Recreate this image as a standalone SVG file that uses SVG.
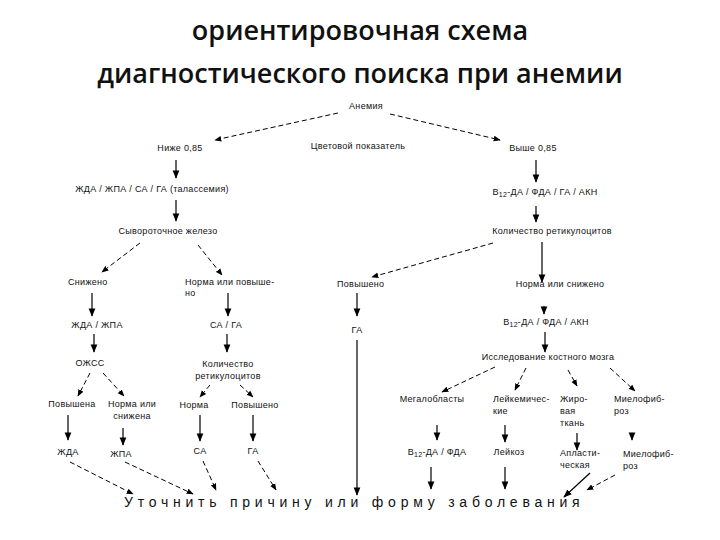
<svg xmlns="http://www.w3.org/2000/svg" width="720" height="540" viewBox="0 0 720 540">
<defs>
<marker id="ah" viewBox="0 0 10 10" refX="9" refY="5" markerWidth="7" markerHeight="7" orient="auto-start-reverse"><path d="M0,1 L10,5 L0,9 z" fill="#000"/></marker>
<style>
.t{font-family:"Liberation Sans",Arial,sans-serif;font-size:9px;fill:#111;letter-spacing:0.3px}
.m{text-anchor:middle}
.h{font-family:"Open Sans","Noto Sans",sans-serif;font-weight:600;font-size:27px;fill:#111;text-anchor:middle}
.s{stroke:#000;stroke-width:1.2;fill:none;marker-end:url(#ah)}
.d{stroke:#000;stroke-width:1;fill:none;stroke-dasharray:5,3;marker-end:url(#ah)}
</style>
</defs>
<rect width="720" height="540" fill="#fff"/>
<g id="title"><text class="h" x="360" y="40">ориентировочная схема</text><text class="h" x="360" y="83">диагностического поиска при анемии</text></g>
<g id="connectors">
<path class="d" d="M338,113 L215,140"/>
<path class="d" d="M390,114 L500,140"/>
<path class="s" d="M176,160 L176,178"/>
<path class="s" d="M176,200 L176,221"/>
<path class="d" d="M140,243 L102,272"/>
<path class="d" d="M198,245 L222,275"/>
<path class="s" d="M536,160 L536,182"/>
<path class="s" d="M536,206 L536,222"/>
<path class="d" d="M493,243 L372,277"/>
<path class="s" d="M542,242 L542,282"/>
<path class="s" d="M92,293 L92,316"/>
<path class="s" d="M228,293 L228,316"/>
<path class="s" d="M357,293 L357,316"/>
<path class="s" d="M94,334 L94,352"/>
<path class="d" d="M90,373 L78,396"/>
<path class="d" d="M103,373 L124,396"/>
<path class="s" d="M68,415 L68,440"/>
<path class="s" d="M123,428 L123,445"/>
<path class="s" d="M227,334 L227,352"/>
<path class="d" d="M210,385 L200,397"/>
<path class="d" d="M240,385 L253,397"/>
<path class="s" d="M200,415 L200,441"/>
<path class="s" d="M253,415 L253,441"/>
<path class="s" d="M357,340 L357,495"/>
<path class="s" d="M544,306 L544,314"/>
<path class="s" d="M545,332 L545,352"/>
<path class="d" d="M495,367 L442,392"/>
<path class="d" d="M526,368 L515,390"/>
<path class="d" d="M568,370 L577,386"/>
<path class="d" d="M610,368 L635,391"/>
<path class="s" d="M437,425 L437,440"/>
<path class="s" d="M505,425 L505,442"/>
<path class="s" d="M577,433 L577,450"/>
<path class="s" d="M632,435 L632,440"/>
<path class="s" d="M431,467 L431,489"/>
<path class="s" d="M505,467 L505,489"/>
<path class="d" d="M70,462 L133,494"/>
<path class="d" d="M125,462 L193,494"/>
<path class="d" d="M203,461 L216,490"/>
<path class="d" d="M258,461 L276,490"/>
<path class="s" d="M590,473 L564,497"/>
<path class="d" d="M615,475 L587,490"/>
</g>
<g id="n-anemia"><text class="t m" x="366" y="109">Анемия</text></g>
<g id="n-cp"><text class="t m" x="358" y="149">Цветовой показатель</text></g>
<g id="n-low"><text class="t m" x="180" y="151">Ниже 0,85</text></g>
<g id="n-high"><text class="t m" x="533" y="151">Выше 0,85</text></g>
<g id="n-group1"><text class="t m" x="152" y="192">ЖДА / ЖПА / СА / ГА (талассемия)</text></g>
<g id="n-group2"><text class="t m" x="545" y="195">В<tspan font-size="7" dy="2">12</tspan><tspan dy="-2">-ДА / ФДА / ГА / АКН</tspan></text></g>
<g id="n-iron"><text class="t m" x="168" y="234">Сывороточное железо</text></g>
<g id="n-retic"><text class="t m" x="552" y="234">Количество ретикулоцитов</text></g>
<g id="n-reduced"><text class="t" x="68" y="285">Снижено</text></g>
<g id="n-normhigh"><text class="t" x="185" y="285">Норма или повыше-</text><text class="t" x="185" y="296">но</text></g>
<g id="n-raised"><text class="t" x="337" y="287">Повышено</text></g>
<g id="n-normlow"><text class="t m" x="560" y="287">Норма или снижено</text></g>
<g id="n-zhda-zhpa"><text class="t m" x="97" y="328">ЖДА / ЖПА</text></g>
<g id="n-sa-ga"><text class="t m" x="226" y="328">СА / ГА</text></g>
<g id="n-ga1"><text class="t m" x="357" y="333">ГА</text></g>
<g id="n-b12-2"><text class="t m" x="546" y="325">В<tspan font-size="7" dy="2">12</tspan><tspan dy="-2">-ДА / ФДА / АКН</tspan></text></g>
<g id="n-ozhss"><text class="t m" x="90" y="366">ОЖСС</text></g>
<g id="n-retic2"><text class="t m" x="228" y="367">Количество</text><text class="t m" x="228" y="379">ретикулоцитов</text></g>
<g id="n-bm"><text class="t m" x="548" y="360">Исследование костного мозга</text></g>
<g id="n-pov"><text class="t m" x="72" y="407">Повышена</text></g>
<g id="n-normsn"><text class="t m" x="132" y="407">Норма или</text><text class="t m" x="132" y="419">снижена</text></g>
<g id="n-norma"><text class="t m" x="194" y="408">Норма</text></g>
<g id="n-povysheno"><text class="t m" x="255" y="408">Повышено</text></g>
<g id="n-mega"><text class="t m" x="432" y="402">Мегалобласты</text></g>
<g id="n-leuk"><text class="t" x="493" y="402">Лейкемичес-</text><text class="t" x="493" y="414">кие</text></g>
<g id="n-fat"><text class="t" x="560" y="402">Жиро-</text><text class="t" x="560" y="414">вая</text><text class="t" x="560" y="426">ткань</text></g>
<g id="n-myelo1"><text class="t" x="614" y="402">Миелофиб-</text><text class="t" x="614" y="414">роз</text></g>
<g id="n-zhda"><text class="t m" x="68" y="455">ЖДА</text></g>
<g id="n-zhpa"><text class="t m" x="121" y="457">ЖПА</text></g>
<g id="n-sa"><text class="t m" x="200" y="454">СА</text></g>
<g id="n-ga2"><text class="t m" x="253" y="454">ГА</text></g>
<g id="n-b12da"><text class="t m" x="437" y="455">В<tspan font-size="7" dy="2">12</tspan><tspan dy="-2">-ДА / ФДА</tspan></text></g>
<g id="n-leukoz"><text class="t m" x="509" y="455">Лейкоз</text></g>
<g id="n-aplast"><text class="t" x="560" y="456">Апласти-</text><text class="t" x="560" y="468">ческая</text></g>
<g id="n-myelo2"><text class="t" x="623" y="457">Миелофиб-</text><text class="t" x="623" y="469">роз</text></g>
<g id="n-final"><text class="t" x="124" y="507" style="font-size:14px" textLength="456" lengthAdjust="spacing">Уточнить причину или форму заболевания</text></g>
</svg>
